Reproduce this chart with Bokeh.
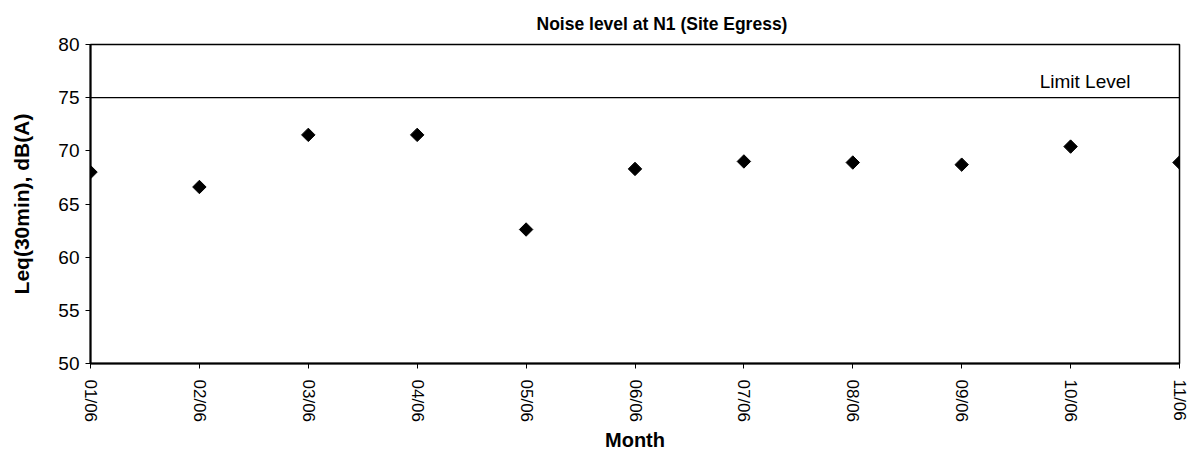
import math
from bokeh.plotting import figure
from bokeh.models import Range1d, FixedTicker, Span, Label, Title
from bokeh.embed import file_html
from bokeh.resources import INLINE

months = ["01/06", "02/06", "03/06", "04/06", "05/06", "06/06",
          "07/06", "08/06", "09/06", "10/06", "11/06"]
leq = [68.0, 66.6, 71.5, 71.5, 62.6, 68.3, 69.0, 68.9, 68.7, 70.4, 68.9]
limit_level = 75
y_ticks = [50, 55, 60, 65, 70, 75, 80]

FONT = "Liberation Sans"
xs = list(range(len(months)))

p = figure(width=1188, height=454, output_backend="svg", toolbar_location=None,
           x_range=Range1d(0, len(months) - 1), y_range=Range1d(50, 80),
           min_border_left=90, min_border_right=9, min_border_top=43,
           min_border_bottom=90, title=None)
p.background_fill_color = "white"
p.border_fill_color = "white"
p.outline_line_color = "black"
p.outline_line_width = 1.5
p.xgrid.visible = False
p.ygrid.visible = False

p.add_layout(Title(text="Noise level at N1 (Site Egress)", align="left", offset=446,
                   text_font=FONT, text_font_size="17.5px", text_font_style="bold",
                   text_color="black", standoff=22), "above")

p.xaxis.ticker = FixedTicker(ticks=xs)
p.xaxis.major_label_overrides = {i: m for i, m in enumerate(months)}
p.xaxis.major_label_orientation = -math.pi / 2
p.yaxis.ticker = FixedTicker(ticks=y_ticks)
for ax in (p.xaxis[0], p.yaxis[0]):
    ax.axis_line_color = "black"
    ax.axis_line_width = 2
    ax.major_tick_line_color = "black"
    ax.major_tick_line_width = 1
    ax.major_tick_out = 5
    ax.major_tick_in = 0
    ax.minor_tick_line_color = None
    ax.major_label_text_font = FONT
    ax.major_label_text_color = "black"
    ax.axis_label_text_font = FONT
    ax.axis_label_text_font_style = "bold"
    ax.axis_label_text_color = "black"

p.xaxis.major_label_text_font_size = "17px"
p.yaxis.major_label_text_font_size = "19px"
p.xaxis.axis_label = "Month"
p.xaxis.axis_label_text_font_size = "20px"
p.xaxis.axis_label_standoff = 4
p.xaxis.major_label_standoff = 11
p.yaxis.axis_label = "Leq(30min), dB(A)"
p.yaxis.axis_label_text_font_size = "21px"
p.yaxis.axis_label_standoff = 22
p.yaxis.major_label_standoff = 6

p.add_layout(Span(location=limit_level, dimension="width",
                  line_color="black", line_width=1.2))
p.add_layout(Label(x=len(months) - 1, y=limit_level + 1.5, x_offset=-49,
                   text="Limit Level", text_align="right", text_baseline="middle",
                   text_font=FONT, text_font_size="19px", text_color="black"))

p.scatter(xs, leq, marker="square", angle=math.pi / 4, size=9.5,
          fill_color="black", line_color="black")

open("out.html", "w").write(file_html(p, INLINE))
